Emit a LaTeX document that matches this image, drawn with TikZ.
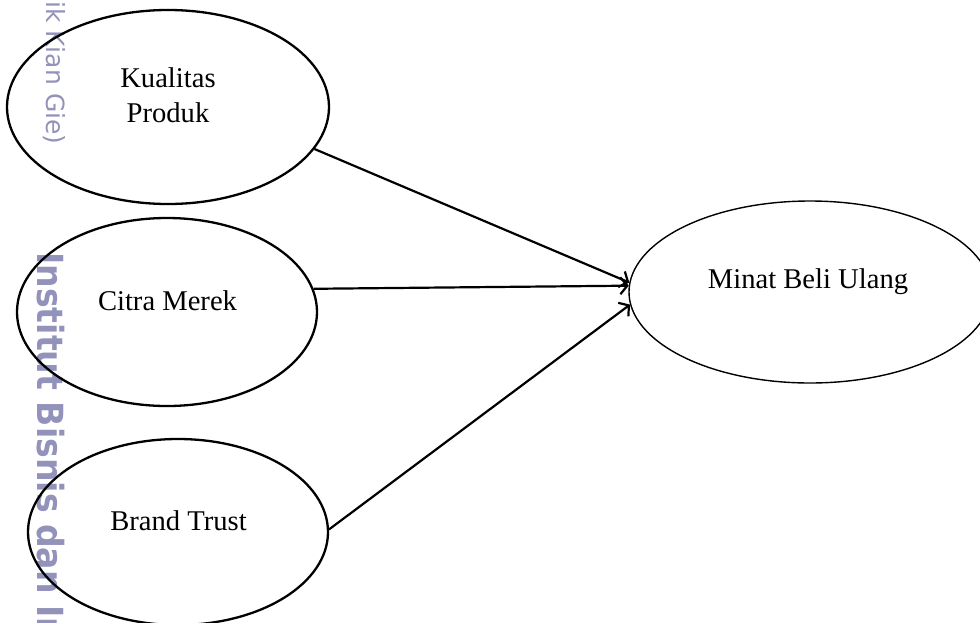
\documentclass[tikz,border=0pt]{standalone}
\usepackage{fontspec}
\setmainfont{Liberation Serif}
\newfontfamily\wmfont{DejaVu Sans}
\usetikzlibrary{shapes.geometric,arrows.meta}
\definecolor{wmcol}{RGB}{146,146,186}
\begin{document}
\begin{tikzpicture}[x=1pt,y=-1pt,
  oval/.style={draw, ellipse, inner sep=0pt, line width=2.3pt},
  lbl/.style={font=\fontsize{28.6}{33}\selectfont, anchor=base, inner sep=0pt},
  arr/.style={-{Straight Barb[length=7pt,width=17pt]}, line width=2.2pt},
  wmbig/.style={anchor=base west, rotate=-90, inner sep=0pt, text=wmcol,
    font=\wmfont\bfseries\fontsize{36}{36}\selectfont},
  wmsmall/.style={anchor=base west, rotate=-90, inner sep=0pt, text=wmcol,
    font=\wmfont\fontsize{25}{25}\selectfont}
]
\useasboundingbox (0,0) rectangle (980,622);
% watermark
\node[wmsmall] (wma) at (46,1) {ik Kian Gie)};
\node[wmbig] (wmb) at (37,252) {\scalebox{0.92}[1]{Institut Bisnis dan In}};
% ellipses
\node[oval, minimum width=322pt, minimum height=194pt] (k) at (168,107) {};
\node[oval, minimum width=300pt, minimum height=188pt] (c) at (167,312) {};
\node[oval, minimum width=300pt, minimum height=186pt] (b) at (178,532) {};
\node[oval, line width=1.4pt, minimum width=362pt, minimum height=182pt] (m) at (810,292) {};
% labels
\node[lbl] (tk1) at (168,87) {Kualitas};
\node[lbl] (tk2) at (168,122) {Produk};
\node[lbl] (tc) at (167.5,310) {Citra Merek};
\node[lbl] (tb) at (178.5,530) {Brand Trust};
\node[lbl] (tm) at (808,288) {Minat Beli Ulang};
% connectors
\draw[arr] (k.-16.6) -- (m.177.1);
\draw[arr] (c.9.7) -- (m.178.4);
\draw[arr] (b.1.5) -- (m.184.8);
\end{tikzpicture}
\end{document}
